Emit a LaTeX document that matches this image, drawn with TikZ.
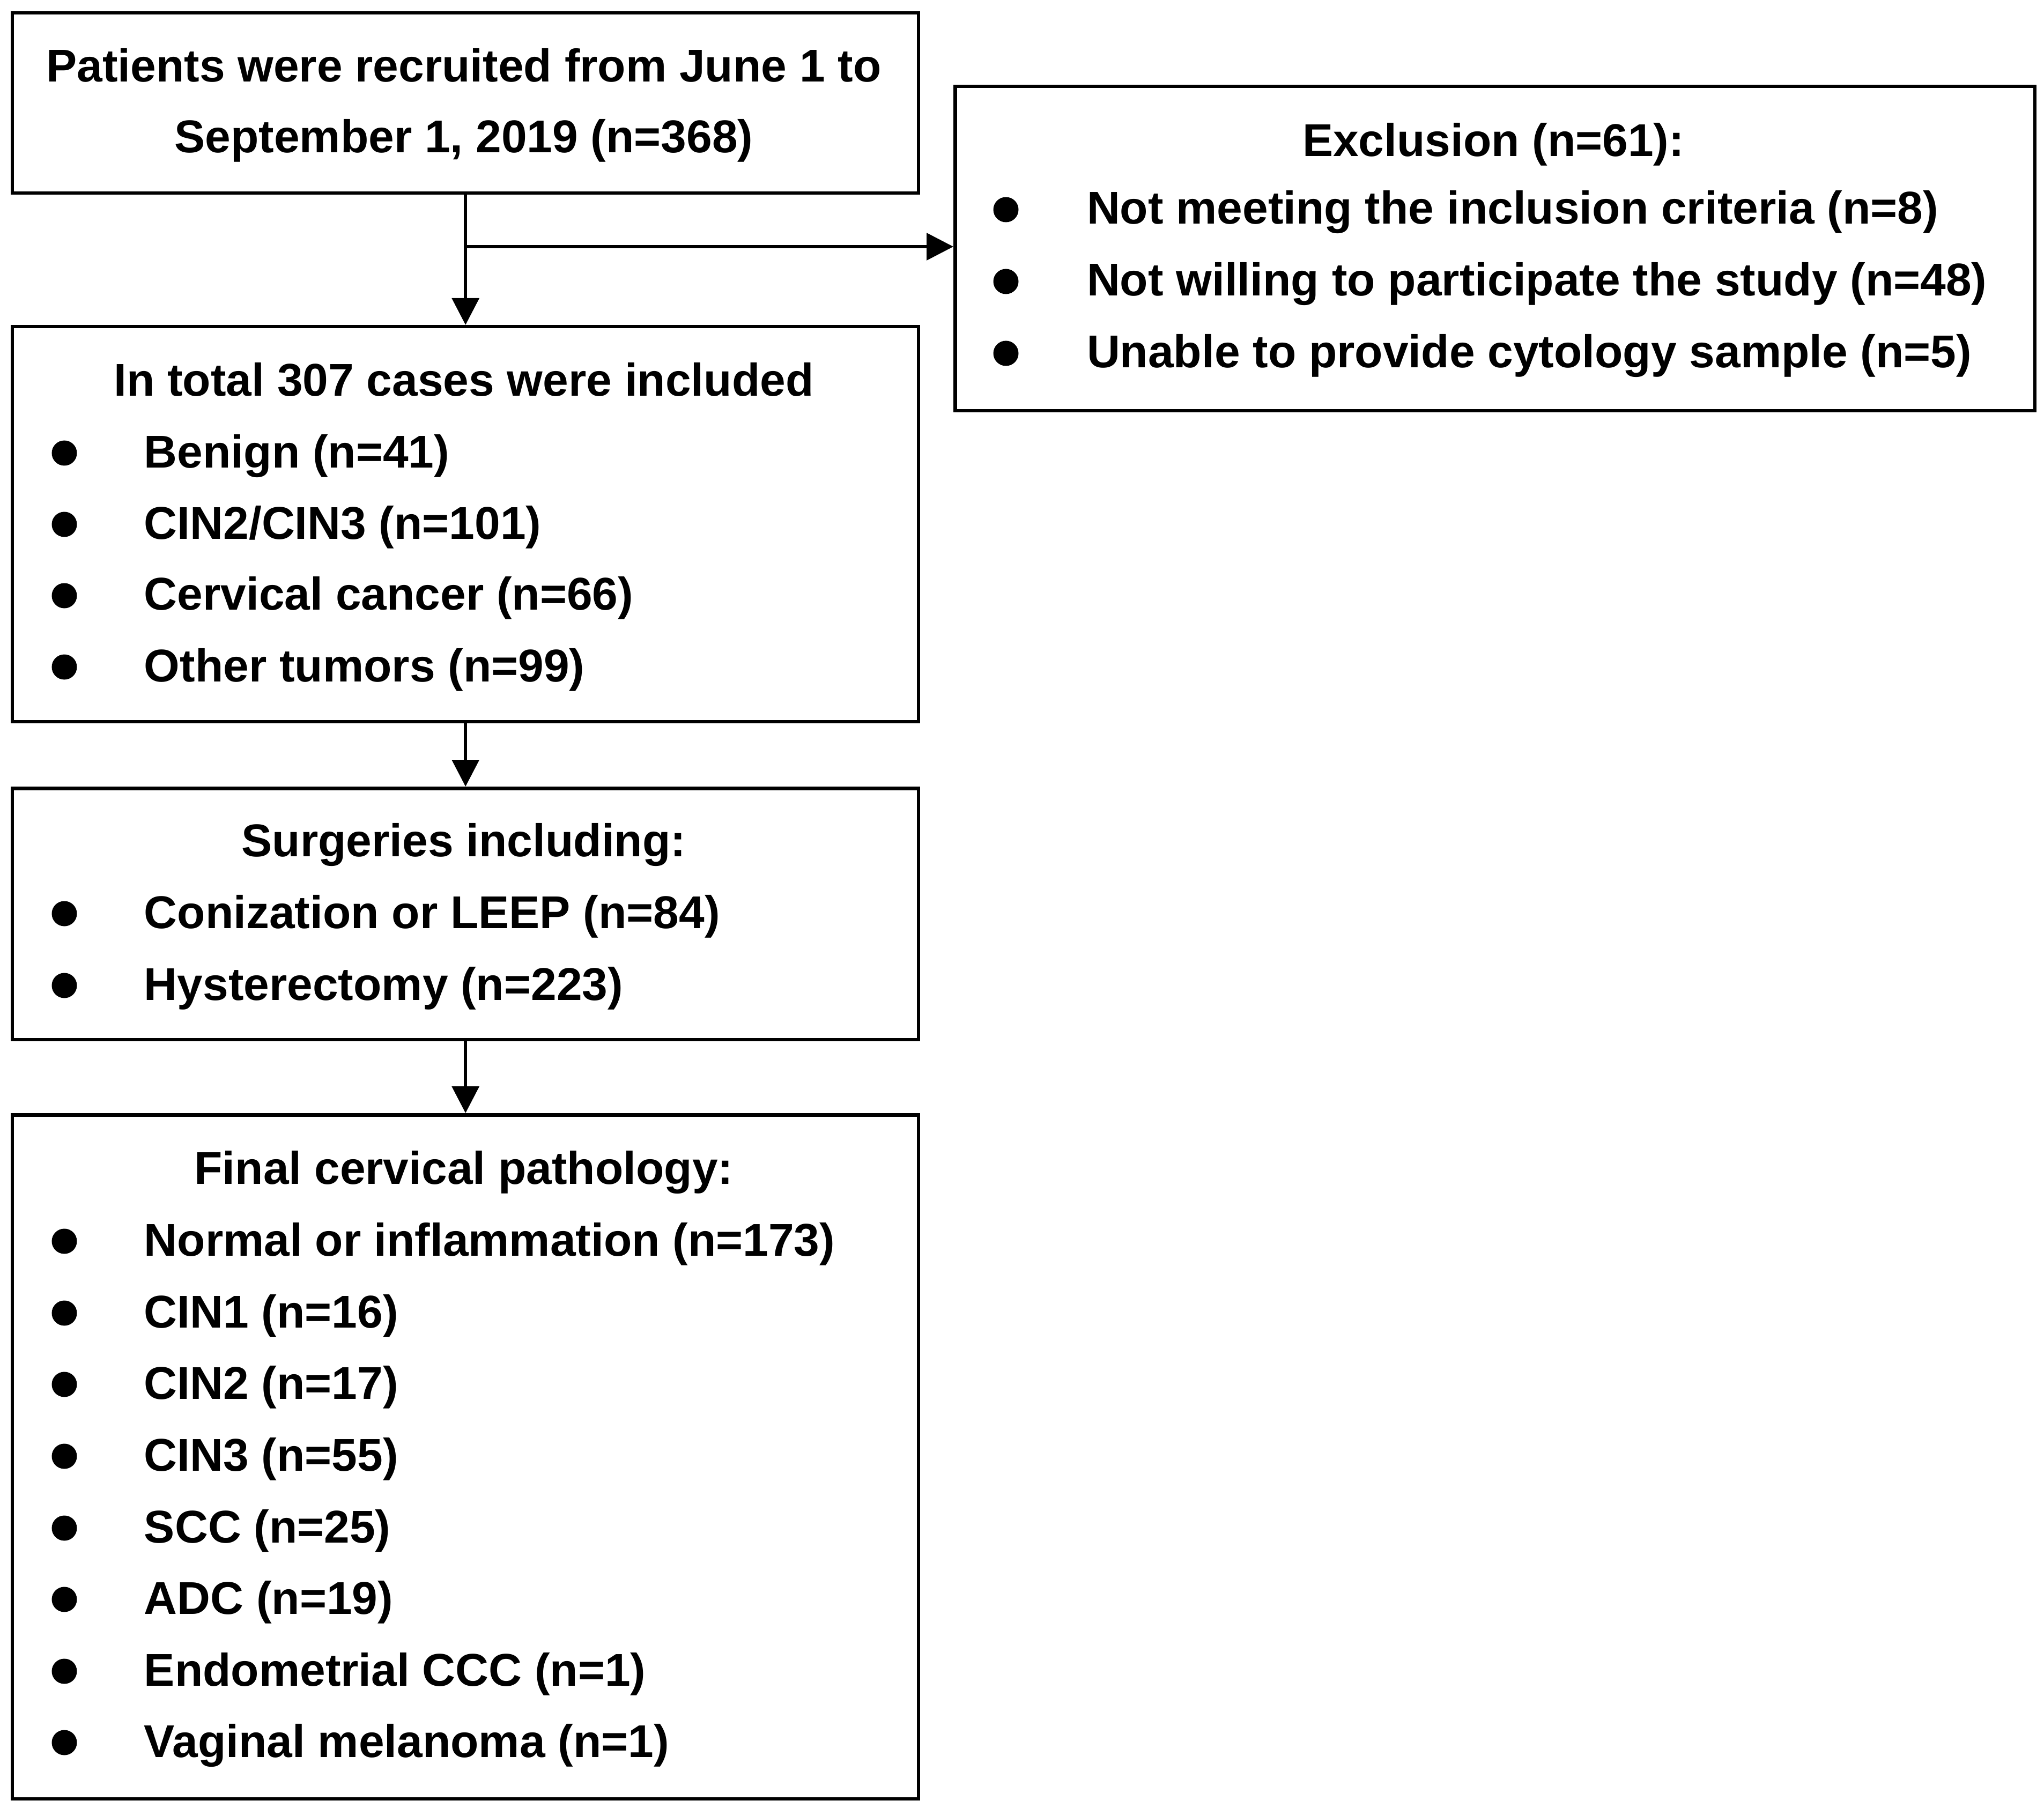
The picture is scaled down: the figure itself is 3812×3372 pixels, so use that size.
\documentclass[tikz,border=0pt]{standalone}
\usepackage{fontspec}
\setmainfont{Liberation Sans}
\usetikzlibrary{arrows.meta}
\begin{document}
\begin{tikzpicture}[x=0.1pt,y=-0.1pt,
  box/.style={draw,line width=0.65pt,inner sep=0pt,anchor=north west},
  txt/.style={inner sep=0pt,font=\bfseries\fontsize{8.57}{10}\selectfont},
  ctr/.style={txt,anchor=base},
  itm/.style={txt,anchor=base west},
  arr/.style={line width=0.65pt,-{Triangle[length=5pt,width=5pt]}},
  dot/.style={fill,circle,inner sep=0pt,minimum size=4.7pt}]
\useasboundingbox (0,0) rectangle (3812,3372);
% boxes
\node[box,minimum width=169pt,minimum height=33.6pt] (b1) at (20,21) {};
\node[box,minimum width=201.4pt,minimum height=60.5pt] (ex) at (1778,158) {};
\node[box,minimum width=169pt,minimum height=73.7pt] (b2) at (20,606) {};
\node[box,minimum width=169pt,minimum height=46.9pt] (b3) at (20,1467) {};
\node[box,minimum width=169pt,minimum height=127.6pt] (b4) at (20,2076) {};
% box 1
\node[ctr] (b1a) at (865,153) {Patients were recruited from June 1 to};
\node[ctr] (b1b) at (865,285) {September 1, 2019 (n=368)};
% exclusion
\node[ctr] (ext) at (2785,292) {Exclusion (n=61):};
\node[dot] (exd1) at (1876,391) {};
\node[itm] (ex1) at (2025,418) {Not meeting the inclusion criteria (n=8)};
\node[dot] (exd2) at (1876,525) {};
\node[itm] (ex2) at (2025,552) {Not willing to participate the study (n=48)};
\node[dot] (exd3) at (1876,659) {};
\node[itm] (ex3) at (2025,686) {Unable to provide cytology sample (n=5)};
% box 2
\node[ctr] (b2t) at (865,739) {In total 307 cases were included};
\node[dot] (b2d1) at (120,845) {};
\node[itm] (b2i1) at (267,872) {Benign (n=41)};
\node[dot] (b2d2) at (120,978) {};
\node[itm] (b2i2) at (267,1005) {CIN2/CIN3 (n=101)};
\node[dot] (b2d3) at (120,1111) {};
\node[itm] (b2i3) at (267,1138) {Cervical cancer (n=66)};
\node[dot] (b2d4) at (120,1244) {};
\node[itm] (b2i4) at (267,1271) {Other tumors (n=99)};
% box 3
\node[ctr] (b3t) at (865,1597) {Surgeries including:};
\node[dot] (b3d1) at (120,1704) {};
\node[itm] (b3i1) at (267,1731) {Conization or LEEP (n=84)};
\node[dot] (b3d2) at (120,1838) {};
\node[itm] (b3i2) at (267,1865) {Hysterectomy (n=223)};
% box 4
\node[ctr] (b4t) at (865,2208) {Final cervical pathology:};
\node[dot] (b4d1) at (120,2315) {};
\node[itm] (b4i1) at (267,2342) {Normal or inflammation (n=173)};
\node[dot] (b4d2) at (120,2449) {};
\node[itm] (b4i2) at (267,2476) {CIN1 (n=16)};
\node[dot] (b4d3) at (120,2582) {};
\node[itm] (b4i3) at (267,2609) {CIN2 (n=17)};
\node[dot] (b4d4) at (120,2716) {};
\node[itm] (b4i4) at (267,2743) {CIN3 (n=55)};
\node[dot] (b4d5) at (120,2850) {};
\node[itm] (b4i5) at (267,2877) {SCC (n=25)};
\node[dot] (b4d6) at (120,2983) {};
\node[itm] (b4i6) at (267,3010) {ADC (n=19)};
\node[dot] (b4d7) at (120,3117) {};
\node[itm] (b4i7) at (267,3144) {Endometrial CCC (n=1)};
\node[dot] (b4d8) at (120,3250) {};
\node[itm] (b4i8) at (267,3277) {Vaginal melanoma (n=1)};
% connectors
\coordinate (j) at (865,460);
\draw[arr] (b1.south) -- (b2.north);
\draw[arr] (j) -- (ex.west |- j);
\draw[arr] (b2.south) -- (b3.north);
\draw[arr] (b3.south) -- (b4.north);
\end{tikzpicture}
\end{document}
